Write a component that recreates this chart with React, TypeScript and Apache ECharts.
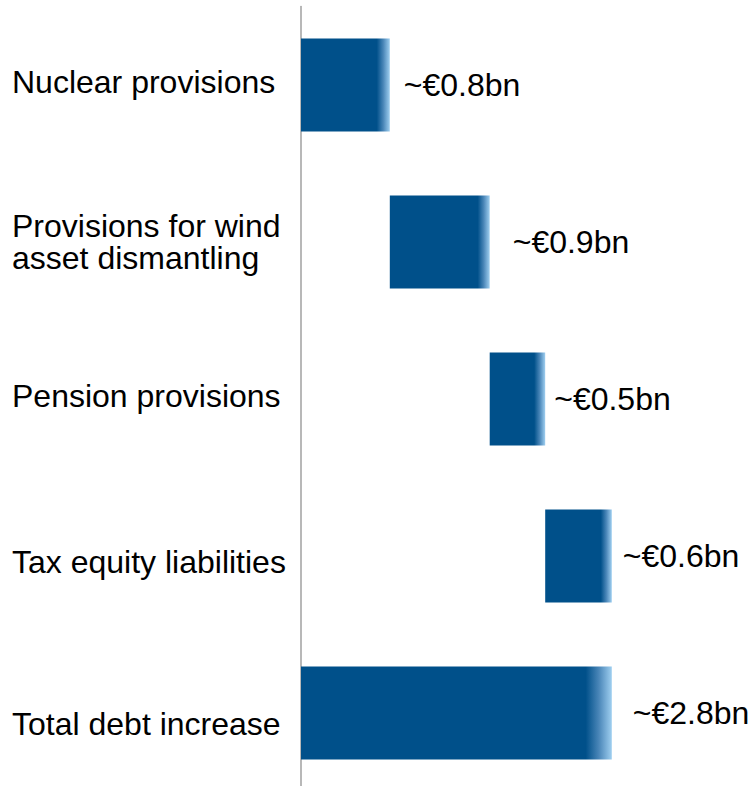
import React, { useEffect, useRef } from "react";
import * as echarts from "echarts";

const categories = [
  "Nuclear provisions",
  "Provisions for wind\nasset dismantling",
  "Pension provisions",
  "Tax equity liabilities",
  "Total debt increase",
];
const values = [0.8, 0.9, 0.5, 0.6, 2.8];
const isTotal = [false, false, false, false, true];
const valueLabels = ["~€0.8bn", "~€0.9bn", "~€0.5bn", "~€0.6bn", "~€2.8bn"];

// styling (not data)
const labelGaps = [14, 23, 9, 11, 21];
const fadePx = [13, 12, 11, 11, 26];
const catLabelShift = [-3, 0, -3, 6, 11];

const DARK = "#00508a";
const LIGHT = "#9fcff0";
const PX_PER_UNIT = 111;
const FONT = "Liberation Sans, Arial, sans-serif";

export default function App() {
  const ref = useRef<HTMLDivElement>(null);
  useEffect(() => {
    if (!ref.current) return;
    const chart = echarts.init(ref.current, undefined, { renderer: "svg" });
    let running = 0;
    const bases: number[] = [];
    values.forEach((v, i) => {
      if (isTotal[i]) {
        bases.push(0);
      } else {
        bases.push(running);
        running += v;
      }
    });
    const barData = values.map((v, i) => {
      const w = v * PX_PER_UNIT;
      const f = Math.min(0.5, fadePx[i] / w);
      return {
        value: v,
        itemStyle: {
          color: new echarts.graphic.LinearGradient(0, 0, 1, 0, [
            { offset: 0, color: DARK },
            { offset: 1 - f, color: DARK },
            { offset: 1 - f * 0.5, color: "#4a86b8" },
            { offset: 1, color: LIGHT },
          ]),
        },
        label: { distance: labelGaps[i] },
      };
    });
    chart.setOption({
      animation: false,
      grid: { left: 301, width: 333, top: 6.5, height: 785, containLabel: false },
      xAxis: {
        type: "value",
        min: 0,
        max: 3,
        show: false,
      },
      yAxis: {
        type: "category",
        inverse: true,
        data: categories,
        axisLine: { show: true, lineStyle: { color: "#a0a0a0", width: 1.5 } },
        axisTick: { show: false },
        axisLabel: {
          align: "left",
          margin: 289,
          color: "#000",
          fontFamily: FONT,
          fontSize: 32,
          lineHeight: 32,
          formatter: (val: string, idx: number) => `{s${idx}|${val}}`,
          rich: Object.fromEntries(
            catLabelShift.map((s, i) => [
              `s${i}`,
              {
                fontSize: 32,
                lineHeight: 32,
                color: "#000",
                fontFamily: FONT,
                padding: s >= 0 ? [s * 2, 0, 0, 0] : [0, 0, -s * 2, 0],
              },
            ])
          ),
        },
      },
      series: [
        {
          type: "bar",
          stack: "w",
          data: bases,
          itemStyle: { color: "transparent" },
          barWidth: 93,
          silent: true,
        },
        {
          type: "bar",
          stack: "w",
          data: barData,
          barWidth: 93,
          label: {
            show: true,
            position: "right",
            color: "#000",
            fontFamily: FONT,
            fontSize: 32,
            formatter: (p: any) => valueLabels[p.dataIndex],
          },
        },
      ],
    });
    return () => chart.dispose();
  }, []);
  return (
    <div
      ref={ref}
      style={{ position: "fixed", left: 0, top: 0, width: 752, height: 800, background: "#fff" }}
    />
  );
}
